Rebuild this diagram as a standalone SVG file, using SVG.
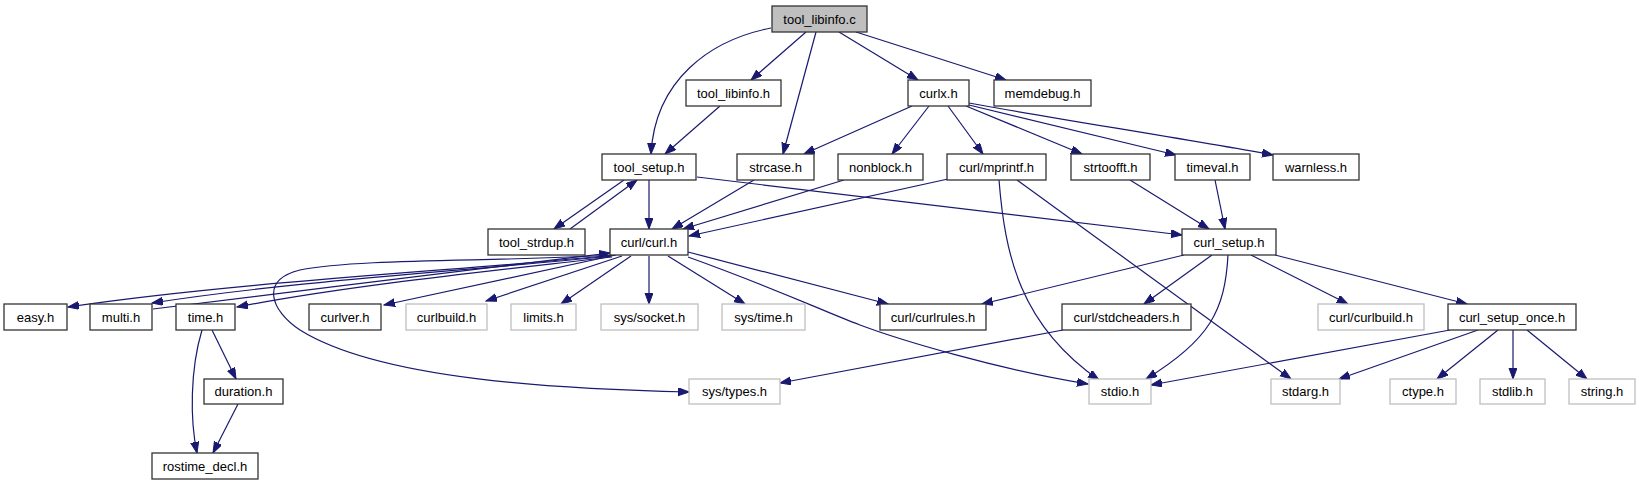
<svg xmlns="http://www.w3.org/2000/svg" width="1639" height="485" viewBox="0 0 1639 485">
<style>
.n rect{fill:#fff;stroke:#333;stroke-width:1.3}
.g rect{fill:#fff;stroke:#bfbfbf;stroke-width:1.3}
.root rect{fill:#bfbfbf;stroke:#333;stroke-width:1.3}
text{font-family:"Liberation Sans",Arial,Helvetica,sans-serif;font-size:13px;fill:#000;text-anchor:middle}
#edges path{fill:none;stroke:#191970;stroke-width:1.2;marker-end:url(#ah)}
</style>
<defs>
<marker id="ah" markerWidth="12" markerHeight="10" refX="11" refY="4" orient="auto" markerUnits="userSpaceOnUse">
<path d="M0,0 L11,4 L0,8 z" fill="#191970" stroke="#191970" stroke-width="1"/>
</marker>
</defs>
<rect width="1639" height="485" fill="#fff"/>
<g id="edges">
<path d="M771,28 C710,40 655,80 651,154"/>
<path d="M806,32 L751,80"/>
<path d="M816,32 L783,154"/>
<path d="M839,32 L918,80"/>
<path d="M856,32 L1006,80"/>
<path d="M720,106 L665,154"/>
<path d="M912,106 L804,154"/>
<path d="M929,106 L892,154"/>
<path d="M948,106 L983,154"/>
<path d="M966,106 L1082,154"/>
<path d="M969,105 L1176,155"/>
<path d="M969,103 C1050,118 1180,138 1273,155"/>
<path d="M649,180 L649,229"/>
<path d="M624,180 L554,229"/>
<path d="M570,229 L637,180"/>
<path d="M697,177 L1182,235"/>
<path d="M754,180 L672,229"/>
<path d="M844,180 L683,229"/>
<path d="M948,179 L689,236"/>
<path d="M999,180 C1005,255 1020,325 1099,380"/>
<path d="M1017,180 L1291,379"/>
<path d="M1130,180 L1209,229"/>
<path d="M1215,180 L1225,229"/>
<path d="M1184,255 L982,304"/>
<path d="M1212,255 L1144,304"/>
<path d="M1228,255 C1225,310 1210,340 1146,379"/>
<path d="M1251,255 L1348,304"/>
<path d="M1275,255 L1467,304"/>
<path d="M1450,330 L1151,385"/>
<path d="M1478,330 L1339,379"/>
<path d="M1498,330 L1437,379"/>
<path d="M1513,330 L1513,379"/>
<path d="M1527,330 L1587,379"/>
<path d="M1063,330 L780,383"/>
<path d="M202,330 C190,370 190,420 197,453"/>
<path d="M212,330 L236,379"/>
<path d="M238,404 L213,453"/>
<path d="M612,255 C500,268 250,280 68,307"/>
<path d="M611,256 C480,270 300,280 152,303"/>
<path d="M153,309 C300,290 480,270 610,253"/>
<path d="M612,257 C500,270 350,285 237,307"/>
<path d="M613,255 C500,262 360,258 300,270 C260,280 270,310 300,330 C380,380 560,389 689,392"/>
<path d="M616,255 L384,305"/>
<path d="M622,256 L486,301"/>
<path d="M631,256 L561,304"/>
<path d="M649,256 L649,304"/>
<path d="M668,256 L745,304"/>
<path d="M688,252 L888,304"/>
<path d="M688,257 C780,290 820,310 860,325 S1000,370 1088,384"/>
</g>
<g id="tool_libinfo_c" class="root"><rect x="772" y="6" width="95" height="26"/><text x="819.5" y="23.5">tool_libinfo.c</text></g>
<g id="tool_libinfo_h" class="n"><rect x="686" y="80" width="95" height="26"/><text x="733.5" y="97.5">tool_libinfo.h</text></g>
<g id="curlx_h" class="n"><rect x="908" y="80" width="61" height="26"/><text x="938.5" y="97.5">curlx.h</text></g>
<g id="memdebug_h" class="n"><rect x="994" y="80" width="97" height="26"/><text x="1042.5" y="97.5">memdebug.h</text></g>
<g id="tool_setup_h" class="n"><rect x="602" y="154" width="94" height="26"/><text x="649" y="171.5">tool_setup.h</text></g>
<g id="strcase_h" class="n"><rect x="737" y="154" width="77" height="26"/><text x="775.5" y="171.5">strcase.h</text></g>
<g id="nonblock_h" class="n"><rect x="838" y="154" width="85" height="26"/><text x="880.5" y="171.5">nonblock.h</text></g>
<g id="curl_mprintf_h" class="n"><rect x="947" y="154" width="99" height="26"/><text x="996.5" y="171.5">curl/mprintf.h</text></g>
<g id="strtoofft_h" class="n"><rect x="1071" y="154" width="79" height="26"/><text x="1110.5" y="171.5">strtoofft.h</text></g>
<g id="timeval_h" class="n"><rect x="1175" y="154" width="75" height="26"/><text x="1212.5" y="171.5">timeval.h</text></g>
<g id="warnless_h" class="n"><rect x="1273" y="154" width="86" height="26"/><text x="1316" y="171.5">warnless.h</text></g>
<g id="tool_strdup_h" class="n"><rect x="488" y="229" width="97" height="26"/><text x="536.5" y="246.5">tool_strdup.h</text></g>
<g id="curl_curl_h" class="n"><rect x="610" y="229" width="78" height="26"/><text x="649" y="246.5">curl/curl.h</text></g>
<g id="curl_setup_h" class="n"><rect x="1182" y="229" width="94" height="26"/><text x="1229" y="246.5">curl_setup.h</text></g>
<g id="easy_h" class="n"><rect x="4" y="304" width="63" height="26"/><text x="35.5" y="321.5">easy.h</text></g>
<g id="multi_h" class="n"><rect x="90" y="304" width="62" height="26"/><text x="121" y="321.5">multi.h</text></g>
<g id="time_h" class="n"><rect x="176" y="304" width="59" height="26"/><text x="205.5" y="321.5">time.h</text></g>
<g id="curlver_h" class="n"><rect x="309" y="304" width="72" height="26"/><text x="345" y="321.5">curlver.h</text></g>
<g id="curlbuild_h" class="g"><rect x="406" y="304" width="81" height="26"/><text x="446.5" y="321.5">curlbuild.h</text></g>
<g id="limits_h" class="g"><rect x="511" y="304" width="65" height="26"/><text x="543.5" y="321.5">limits.h</text></g>
<g id="sys_socket_h" class="g"><rect x="601" y="304" width="97" height="26"/><text x="649.5" y="321.5">sys/socket.h</text></g>
<g id="sys_time_h" class="g"><rect x="722" y="304" width="83" height="26"/><text x="763.5" y="321.5">sys/time.h</text></g>
<g id="curl_curlrules_h" class="n"><rect x="880" y="304" width="106" height="26"/><text x="933" y="321.5">curl/curlrules.h</text></g>
<g id="curl_stdcheaders_h" class="n"><rect x="1062" y="304" width="129" height="26"/><text x="1126.5" y="321.5">curl/stdcheaders.h</text></g>
<g id="curl_curlbuild_h" class="g"><rect x="1318" y="304" width="106" height="26"/><text x="1371" y="321.5">curl/curlbuild.h</text></g>
<g id="curl_setup_once_h" class="n"><rect x="1448" y="304" width="128" height="26"/><text x="1512" y="321.5">curl_setup_once.h</text></g>
<g id="duration_h" class="n"><rect x="204" y="379" width="79" height="25"/><text x="243.5" y="396">duration.h</text></g>
<g id="sys_types_h" class="g"><rect x="689" y="379" width="91" height="25"/><text x="734.5" y="396">sys/types.h</text></g>
<g id="stdio_h" class="g"><rect x="1089" y="379" width="62" height="25"/><text x="1120" y="396">stdio.h</text></g>
<g id="stdarg_h" class="g"><rect x="1271" y="379" width="69" height="25"/><text x="1305.5" y="396">stdarg.h</text></g>
<g id="ctype_h" class="g"><rect x="1390" y="379" width="66" height="25"/><text x="1423" y="396">ctype.h</text></g>
<g id="stdlib_h" class="g"><rect x="1480" y="379" width="65" height="25"/><text x="1512.5" y="396">stdlib.h</text></g>
<g id="string_h" class="g"><rect x="1569" y="379" width="66" height="25"/><text x="1602" y="396">string.h</text></g>
<g id="rostime_decl_h" class="n"><rect x="152" y="453" width="106" height="26"/><text x="205" y="470.5">rostime_decl.h</text></g>
</svg>
